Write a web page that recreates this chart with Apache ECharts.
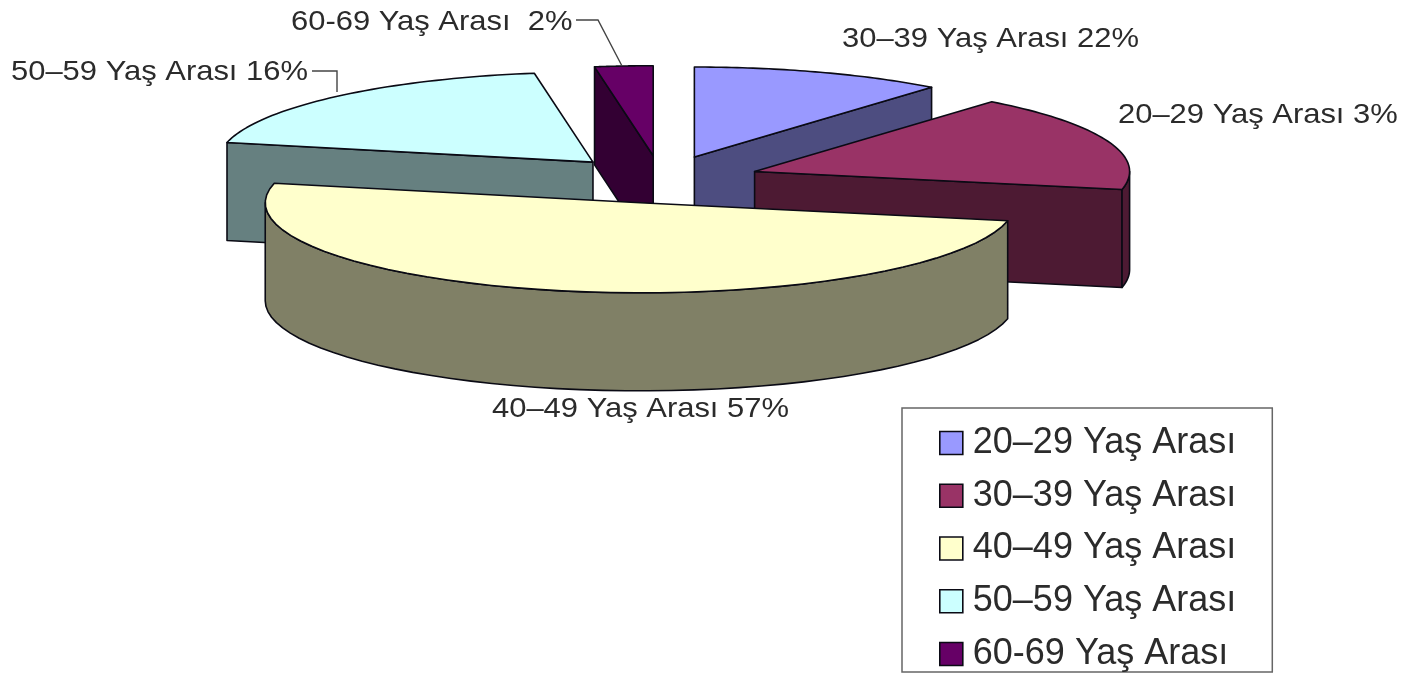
<!DOCTYPE html>
<html>
<head>
<meta charset="utf-8">
<style>html,body{margin:0;padding:0;background:#fff}#c{width:1408px;height:684px;filter:blur(0.6px)}</style>
<script src="https://cdn.jsdelivr.net/npm/echarts@6/dist/echarts.min.js"></script>
</head>
<body>
<div id="c"></div>
<script>
// Legend categories, in legend order
const categories = ['20–29 Yaş Arası', '30–39 Yaş Arası', '40–49 Yaş Arası', '50–59 Yaş Arası', '60-69 Yaş Arası'];
// Share of the full circle each slice occupies as drawn in the picture (%)
const drawnShares = [10.9, 17.3, 50.3, 19.0, 2.5];
// Data labels as printed next to each slice, in the same slice order
const labelNames = ['30–39 Yaş Arası', '20–29 Yaş Arası', '40–49 Yaş Arası', '50–59 Yaş Arası', '60-69 Yaş Arası '];
const labelPercents = [22, 3, 57, 16, 2];

// Styles
const topColors = ['#9999ff', '#993366', '#ffffcc', '#ccffff', '#660066'];
const sideColors = ['#4d4d80', '#4d1a33', '#808066', '#668080', '#330033'];
const paintOrder = [1, 2, 5, 4, 3];
// Layout of the pie
const pie = { cx: 661, cy: 179.5, rx: 375, ry: 90, depth: 98, explode: 0.265 };
const labelBoxes = [
  { x: 842, y: 39 }, { x: 1118, y: 115 }, { x: 492, y: 409 }, { x: 11, y: 72 }, { x: 291, y: 22 }
];
const leaders = [
  [[312, 71], [337, 71], [337, 92]],
  [[576, 20], [598, 20], [622, 66]]
];

const rad = d => d * Math.PI / 180;
const starts = [];
drawnShares.reduce((acc, v, i) => { starts[i] = acc; return acc + v; }, 0);

function renderSlice(params, api) {
  const a0 = api.value(0) * 3.6, a1 = (api.value(0) + api.value(1)) * 3.6;
  const i = params.seriesIndex, mid = (a0 + a1) / 2;
  const ax = pie.cx + pie.explode * pie.rx * Math.sin(rad(mid));
  const ay = pie.cy - pie.explode * pie.ry * Math.cos(rad(mid));
  const rim = (t, dz) => [ax + pie.rx * Math.sin(rad(t)), ay - pie.ry * Math.cos(rad(t)) + (dz || 0)];
  const toPx = p => api.coord(p);
  const stroke = { stroke: '#0a0a14', lineWidth: 1.6, lineJoin: 'round' };
  const children = [];
  const poly = (pts, fill) => children.push({
    type: 'polygon', shape: { points: pts.map(toPx) }, style: Object.assign({ fill }, stroke)
  });
  const face = t => poly([[ax, ay], rim(t), rim(t, pie.depth), [ax, ay + pie.depth]], sideColors[i]);
  // cut faces that look towards the viewer
  if (Math.sin(rad(a0)) < -1e-6) face(a0);
  if (Math.sin(rad(a1)) > 1e-6) face(a1);
  // outer wall, only the part at the near side of the ellipse
  const w0 = Math.max(a0, 90), w1 = Math.min(a1, 270);
  if (w1 > w0) {
    const up = [], down = [];
    for (let k = 0; k <= 48; k++) {
      const t = w0 + (w1 - w0) * k / 48;
      up.push(rim(t)); down.unshift(rim(t, pie.depth));
    }
    poly(up.concat(down), sideColors[i]);
  }
  // top surface
  const top = [[ax, ay]];
  for (let k = 0; k <= 48; k++) top.push(rim(a0 + (a1 - a0) * k / 48));
  poly(top, topColors[i]);
  return { type: 'group', children };
}

const labelEls = labelNames.map((n, i) => ({
  type: 'text', x: labelBoxes[i].x, y: labelBoxes[i].y, scaleX: 1.105, z: 20,
  style: {
    text: n + ' ' + labelPercents[i] + '%',
    font: '28px "Liberation Sans", Arial, sans-serif',
    fill: '#2b2b2b', textVerticalAlign: 'middle'
  }
}));
const leaderEls = leaders.map(pts => ({
  type: 'polyline', z: 20, shape: { points: pts },
  style: { stroke: '#444', lineWidth: 1.4, fill: null }
}));

const option = {
  animation: false,
  backgroundColor: '#fff',
  grid: { left: 0, right: 0, top: 0, bottom: 0 },
  xAxis: { type: 'value', min: 0, max: 1408, show: false },
  yAxis: { type: 'value', min: 0, max: 684, inverse: true, show: false },
  legend: {
    orient: 'vertical', left: 902, top: 408,
    padding: [17, 36, 0, 37],
    backgroundColor: '#fff', borderColor: '#666', borderWidth: 1.5,
    itemWidth: 23, itemHeight: 23, itemGap: 16.75, icon: 'rect',
    itemStyle: { borderColor: '#0a0a14', borderWidth: 1.6 },
    selectedMode: false,
    data: categories,
    textStyle: { fontFamily: '"Liberation Sans", Arial, sans-serif', fontSize: 36, color: '#2b2b2b', padding: [0, 0, 0, 5], lineHeight: 36 }
  },
  graphic: { elements: labelEls.concat(leaderEls) },
  series: categories.map((name, i) => ({
    type: 'custom', name, coordinateSystem: 'cartesian2d', z: paintOrder[i], clip: false,
    itemStyle: { color: topColors[i] },
    encode: { x: 0, y: 1 },
    renderItem: renderSlice,
    data: [[starts[i], drawnShares[i]]]
  }))
};
const chart = echarts.init(document.getElementById('c'), null, { renderer: 'canvas' });
chart.setOption(option);
</script>
</body>
</html>
